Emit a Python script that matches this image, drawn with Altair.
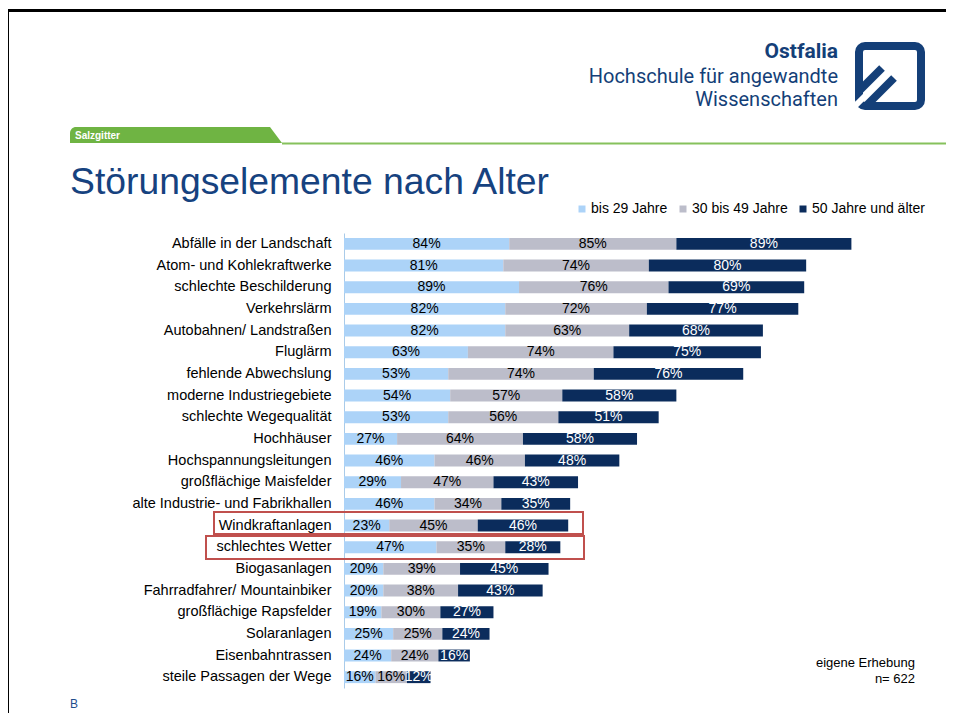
import altair as alt
import pandas as pd

categories = [
    "Abfälle in der Landschaft", "Atom- und Kohlekraftwerke", "schlechte Beschilderung",
    "Verkehrslärm", "Autobahnen/ Landstraßen", "Fluglärm", "fehlende Abwechslung",
    "moderne Industriegebiete", "schlechte Wegequalität", "Hochhäuser",
    "Hochspannungsleitungen", "großflächige Maisfelder", "alte Industrie- und Fabrikhallen",
    "Windkraftanlagen", "schlechtes Wetter", "Biogasanlagen", "Fahrradfahrer/ Mountainbiker",
    "großflächige Rapsfelder", "Solaranlagen", "Eisenbahntrassen", "steile Passagen der Wege",
]
bis29 = [84, 81, 89, 82, 82, 63, 53, 54, 53, 27, 46, 29, 46, 23, 47, 20, 20, 19, 25, 24, 16]
von30bis49 = [85, 74, 76, 72, 63, 74, 74, 57, 56, 64, 46, 47, 34, 45, 35, 39, 38, 30, 25, 24, 16]
ab50 = [89, 80, 69, 77, 68, 75, 76, 58, 51, 58, 48, 43, 35, 46, 28, 45, 43, 27, 24, 16, 12]
groups = ["bis 29 Jahre", "30 bis 49 Jahre", "50 Jahre und älter"]
colors = ["#acd3f8", "#bcbdca", "#0b2c5c"]

rows = []
for i, c in enumerate(categories):
    for k, vals in enumerate([bis29, von30bis49, ab50]):
        rows.append({"cat": c, "grp": groups[k], "val": vals[i], "ord": k, "lbl": f"{vals[i]}%"})
df = pd.DataFrame(rows)

FONT = "Liberation Sans, Arial, sans-serif"
NAVY = "#143f78"
X_SCALE = alt.Scale(domain=[0, 300], nice=False, zero=True)
Y = alt.Y("cat:N", sort=categories, title=None,
          scale=alt.Scale(paddingInner=0.45, paddingOuter=0.225),
          axis=alt.Axis(domainColor="#a9cbe9", domainWidth=1, ticks=False, labelPadding=13,
                        labelFont=FONT, labelFontSize=14.5, labelColor="#000000",
                        labelLimit=400, grid=False))

bars = alt.Chart(df).mark_bar().encode(
    x=alt.X("val:Q", stack="zero", scale=X_SCALE, axis=None),
    y=Y,
    color=alt.Color("grp:N", scale=alt.Scale(domain=groups, range=colors),
                    legend=alt.Legend(title=None, orient="none", legendX=231, legendY=-31,
                                      direction="horizontal", symbolType="square", symbolSize=49,
                                      symbolStrokeWidth=0, labelFont=FONT, labelFontSize=14,
                                      labelColor="#000000", labelOffset=2, columnPadding=8,
                                      padding=0)),
    order=alt.Order("ord:Q"),
)

stacked = alt.Chart(df).transform_stack(
    stack="val", groupby=["cat"], as_=["v0", "v1"], sort=[alt.SortField("ord", order="ascending")]
).transform_calculate(mid="(datum.v0 + datum.v1) / 2")

lab_dark = stacked.transform_filter("datum.ord < 2").mark_text(
    font=FONT, fontSize=14, baseline="middle", align="center", color="#000000"
).encode(x=alt.X("mid:Q", scale=X_SCALE, axis=None), y=Y, text="lbl:N")
lab_light = stacked.transform_filter("datum.ord == 2").mark_text(
    font=FONT, fontSize=14, baseline="middle", align="center", color="#ffffff"
).encode(x=alt.X("mid:Q", scale=X_SCALE, axis=None), y=Y, text="lbl:N")

one = pd.DataFrame({"a": [0]})


def txt(s, x, y, size, color, align="left", weight="normal", font=FONT):
    return alt.Chart(one).mark_text(text=s, align=align, baseline="alphabetic", fontSize=size,
                                    color=color, fontWeight=weight, font=font).encode(
        x=alt.value(x), y=alt.value(y))


def rule(x1, y1, x2, y2, color, w):
    return alt.Chart(one).mark_rule(color=color, strokeWidth=w).encode(
        x=alt.value(x1), y=alt.value(y1), x2=alt.value(x2), y2=alt.value(y2))


def box(x1, y1, x2, y2, **kw):
    return alt.Chart(one).mark_rect(**kw).encode(
        x=alt.value(x1), y=alt.value(y1), x2=alt.value(x2), y2=alt.value(y2))


LOGO_FONT = "Roboto, Liberation Sans, sans-serif"
deco = [
    # slide frame
    rule(-338, -222.5, 602, -222.5, "#000000", 3),
    rule(-336.5, -224, -336.5, 489, "#000000", 3),
    # green tab + line
    box(-274, -106, -74, -90, color="#6fb443", cornerRadiusTopLeft=6),
    alt.Chart(one).mark_point(shape="M -0.75 -1 L 0.75 1 L -0.75 1 Z", filled=True, size=256,
                              color="#6fb443", opacity=1).encode(x=alt.value(-68), y=alt.value(-98)),
    rule(-62, -89.5, 602, -89.5, "#86c15c", 2),
    txt("Salzgitter", -269, -94, 10, "#ffffff", weight="bold"),
    # title
    txt("Störungselemente nach Alter", -274, -39, 37.3, "#16427f"),
    # logo text
    txt("Ostfalia", 494, -175, 21, NAVY, align="right", weight="bold", font=LOGO_FONT),
    txt("Hochschule für angewandte", 494, -150, 20, NAVY, align="right", font=LOGO_FONT),
    txt("Wissenschaften", 494, -127, 20, NAVY, align="right", font=LOGO_FONT),
    # logo icon
    box(515, -187, 577, -127, filled=False, stroke=NAVY, strokeWidth=8, cornerRadius=6),
    rule(514, -141, 538, -165, NAVY, 8),
    rule(522, -127, 550, -155, NAVY, 8),
    rule(504, -120, 547, -163, "#ffffff", 6),
    # highlight boxes
    box(-130, 279, 239, 301, filled=False, stroke="#c0504d", strokeWidth=2),
    box(-138, 303, 240, 326, filled=False, stroke="#c0504d", strokeWidth=2),
    # footer notes
    txt("eigene Erhebung", 571, 434, 13, "#000000", align="right"),
    txt("n= 622", 571, 450, 13, "#000000", align="right"),
    txt("B", -274, 475, 12, "#1f4e8c"),
]

chart = alt.layer(bars, lab_dark, lab_light, *deco).properties(
    width=590, height=455,
    autosize=alt.AutoSizeParams(type="none"),
    padding={"left": 336, "top": 225, "right": 12, "bottom": 25},
    background="white",
).configure_view(stroke=None)

chart.save("out.html", embed_options={"renderer": "svg", "actions": False})
